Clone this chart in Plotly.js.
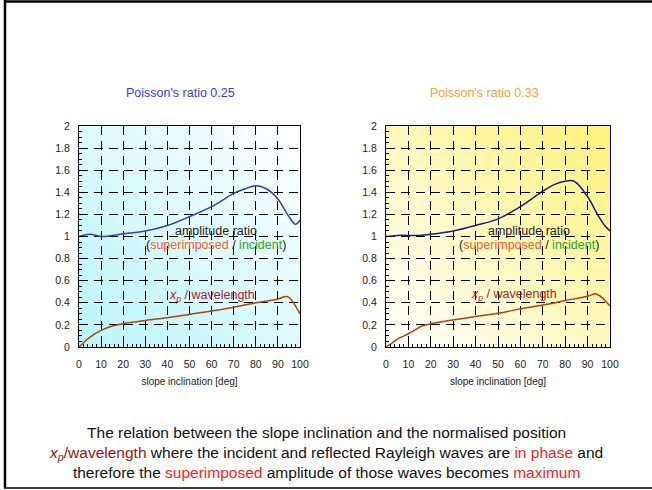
<!DOCTYPE html>
<html>
<head>
<meta charset="utf-8">
<script src="https://cdn.plot.ly/plotly-3.0.1.min.js"></script>
<style>html,body{margin:0;padding:0;background:#fff;}#chart{width:652px;height:490px;}</style>
</head>
<body>
<div id="chart"></div>
<script>
// Slope inclination [deg]
const incl025 = [0, 5, 10, 20, 30, 40, 50, 60, 70, 75, 80, 85, 90, 95, 98, 100];
const amp025  = [1.00, 1.02, 1.00, 1.025, 1.05, 1.10, 1.18, 1.27, 1.39, 1.43, 1.46, 1.43, 1.34, 1.18, 1.11, 1.15];
const xpInc025 = [0, 5, 10, 15, 20, 30, 40, 50, 60, 70, 80, 90, 93, 95, 100];
const xp025    = [0, 0.09, 0.15, 0.19, 0.21, 0.24, 0.265, 0.295, 0.325, 0.36, 0.40, 0.435, 0.455, 0.45, 0.30];

const incl033 = [0, 5, 10, 15, 20, 30, 40, 50, 60, 70, 75, 80, 84, 90, 95, 98, 100];
const amp033  = [1.00, 1.01, 1.01, 1.01, 1.02, 1.05, 1.10, 1.16, 1.27, 1.41, 1.47, 1.50, 1.50, 1.36, 1.18, 1.09, 1.05];
const xpInc033 = [0, 3, 5, 8, 10, 13, 16, 20, 30, 40, 50, 60, 70, 80, 90, 94, 100];
const xp033    = [0, 0.04, 0.07, 0.10, 0.12, 0.155, 0.19, 0.21, 0.245, 0.275, 0.305, 0.345, 0.38, 0.42, 0.46, 0.48, 0.37];

const xTicks = [0, 10, 20, 30, 40, 50, 60, 70, 80, 90, 100];
const yTicks = [0, 0.2, 0.4, 0.6, 0.8, 1, 1.2, 1.4, 1.6, 1.8, 2];
const yTickText = ['0', '0.2', '0.4', '0.6', '0.8', '1', '1.2', '1.4', '1.6', '1.8', '2'];

const FONT = 'Arial, "Liberation Sans", sans-serif';

const traces = [
  {x: incl025, y: amp025, xaxis: 'x', yaxis: 'y', mode: 'lines', line: {color: '#3c3cb0', width: 1.5, shape: 'spline'}},
  {x: xpInc025, y: xp025, xaxis: 'x', yaxis: 'y', mode: 'lines', line: {color: '#b4420c', width: 1.5, shape: 'spline'}},
  {x: incl033, y: amp033, xaxis: 'x2', yaxis: 'y2', mode: 'lines', line: {color: '#1c1c90', width: 1.5, shape: 'spline'}},
  {x: xpInc033, y: xp033, xaxis: 'x2', yaxis: 'y2', mode: 'lines', line: {color: '#b4420c', width: 1.5, shape: 'spline'}}
];

function xAxis(domain, anchor) {
  return {
    domain: domain, anchor: anchor, range: [0, 100],
    tickvals: xTicks, ticks: 'inside', ticklen: 5, tickcolor: '#000',
    showline: true, linecolor: '#000', linewidth: 1, mirror: true,
    showgrid: true, gridcolor: '#000', gridwidth: 1, griddash: '9px,6px',
    zeroline: false, ticklabelstandoff: 7,
    minor: {dtick: 2, ticks: 'inside', ticklen: 3, tickcolor: '#000', showgrid: false},
    tickfont: {family: FONT, size: 10.5, color: '#222'},
    title: {text: 'slope inclination [deg]', font: {family: FONT, size: 10, color: '#222'}, standoff: 9}
  };
}
function yAxis(domain, anchor) {
  return {
    domain: domain, anchor: anchor, range: [0, 2],
    tickvals: yTicks, ticktext: yTickText, ticks: 'inside', ticklen: 5, tickcolor: '#000',
    showline: true, linecolor: '#000', linewidth: 1, mirror: true,
    showgrid: true, gridcolor: '#000', gridwidth: 1, griddash: '9px,6px',
    zeroline: false, ticklabelstandoff: 6,
    minor: {dtick: 0.05, ticks: 'inside', ticklen: 3, tickcolor: '#000', showgrid: false},
    tickfont: {family: FONT, size: 10.5, color: '#222'}
  };
}

const yDom = [1 - 347/490, 1 - 126/490];
const xDom1 = [79/652, 300/652];
const xDom2 = [386/652, 610/652];

function grad(c1, c2) {
  const svg = '<svg xmlns="http://www.w3.org/2000/svg" width="100" height="100" preserveAspectRatio="none">' +
    '<defs><linearGradient id="g" x1="0" y1="1" x2="1" y2="0">' +
    '<stop offset="0" stop-color="' + c1 + '"/><stop offset="1" stop-color="' + c2 + '"/></linearGradient></defs>' +
    '<rect width="100" height="100" fill="url(#g)"/></svg>';
  return 'data:image/svg+xml;charset=utf-8,' + encodeURIComponent(svg);
}

const annFont = {family: FONT, size: 12.5, color: '#222'};
const layout = {
  width: 652, height: 490,
  margin: {l: 0, r: 0, t: 0, b: 0},
  paper_bgcolor: '#fff', plot_bgcolor: 'rgba(0,0,0,0)',
  showlegend: false,
  font: {family: FONT},
  xaxis: xAxis(xDom1, 'y'), yaxis: yAxis(yDom, 'x'),
  xaxis2: xAxis(xDom2, 'y2'), yaxis2: yAxis(yDom, 'x2'),
  images: [
    {source: grad('#b8f6fa', '#ffffff'), xref: 'paper', yref: 'paper', x: xDom1[0], y: yDom[1],
     sizex: xDom1[1] - xDom1[0], sizey: yDom[1] - yDom[0], sizing: 'stretch', layer: 'below', xanchor: 'left', yanchor: 'top'},
    {source: grad('#ffffff', '#fff27a'), xref: 'paper', yref: 'paper', x: xDom2[0], y: yDom[1],
     sizex: xDom2[1] - xDom2[0], sizey: yDom[1] - yDom[0], sizing: 'stretch', layer: 'below', xanchor: 'left', yanchor: 'top'}
  ],
  shapes: [
    {type: 'line', xref: 'paper', yref: 'paper', x0: 4/652, x1: 1, y0: 1 - 1.5/490, y1: 1 - 1.5/490, line: {color: '#000', width: 2.5}},
    {type: 'line', xref: 'paper', yref: 'paper', x0: 5/652, x1: 5/652, y0: 1 - 488/490, y1: 1, line: {color: '#000', width: 2.5}},
    {type: 'line', xref: 'paper', yref: 'paper', x0: 4/652, x1: 1, y0: 1 - 488/490, y1: 1 - 488/490, line: {color: '#000', width: 1.5}}
  ],
  annotations: [
    {xref: 'paper', yref: 'paper', x: 180/652, y: 1 - 93/490, xanchor: 'center', yanchor: 'middle',
     text: "Poisson's ratio 0.25", showarrow: false, font: {family: FONT, size: 12.5, color: '#3838f0'}},
    {xref: 'paper', yref: 'paper', x: 484/652, y: 1 - 93/490, xanchor: 'center', yanchor: 'middle',
     text: "Poisson's ratio 0.33", showarrow: false, font: {family: FONT, size: 12.5, color: '#ffa040'}},

    {xref: 'x', yref: 'y', x: 62, y: 1.05, text: 'amplitude ratio', showarrow: false, font: annFont},
    {xref: 'x', yref: 'y', x: 62, y: 0.92, showarrow: false, font: annFont,
     text: '(<span style="color:#ff5a28">superimposed</span> / <span style="color:#22a822">incident</span>)'},
    {xref: 'x', yref: 'y', x: 60, y: 0.46, showarrow: false, font: {family: FONT, size: 12.5, color: '#a81c1c'},
     text: '<i>x<sub>p</sub></i> / wavelength'},

    {xref: 'x2', yref: 'y2', x: 64, y: 1.05, text: 'amplitude ratio', showarrow: false, font: annFont},
    {xref: 'x2', yref: 'y2', x: 64, y: 0.92, showarrow: false, font: annFont,
     text: '(<span style="color:#ff5a28">superimposed</span> / <span style="color:#22a822">incident</span>)'},
    {xref: 'x2', yref: 'y2', x: 57, y: 0.47, showarrow: false, font: {family: FONT, size: 12.5, color: '#a81c1c'},
     text: '<i>x<sub>p</sub></i> / wavelength'},

    {xref: 'paper', yref: 'paper', x: 326/652, y: 1 - 452/490, xanchor: 'center', yanchor: 'middle',
     showarrow: false, align: 'center',
     font: {family: FONT, size: 15.5, color: '#111'},
     text: 'The relation between the slope inclination and the normalised position<br>' +
           '<span style="color:#a01010"><i>x<sub>p</sub></i>/wavelength</span> where the incident and reflected Rayleigh waves are <span style="color:#ff1a1a">in phase</span> and<br>' +
           'therefore the <span style="color:#ff1a1a">superimposed</span> amplitude of those waves becomes <span style="color:#ff1a1a">maximum</span>'}
  ]
};

Plotly.newPlot('chart', traces, layout, {staticPlot: true, displayModeBar: false});
</script>
</body>
</html>
